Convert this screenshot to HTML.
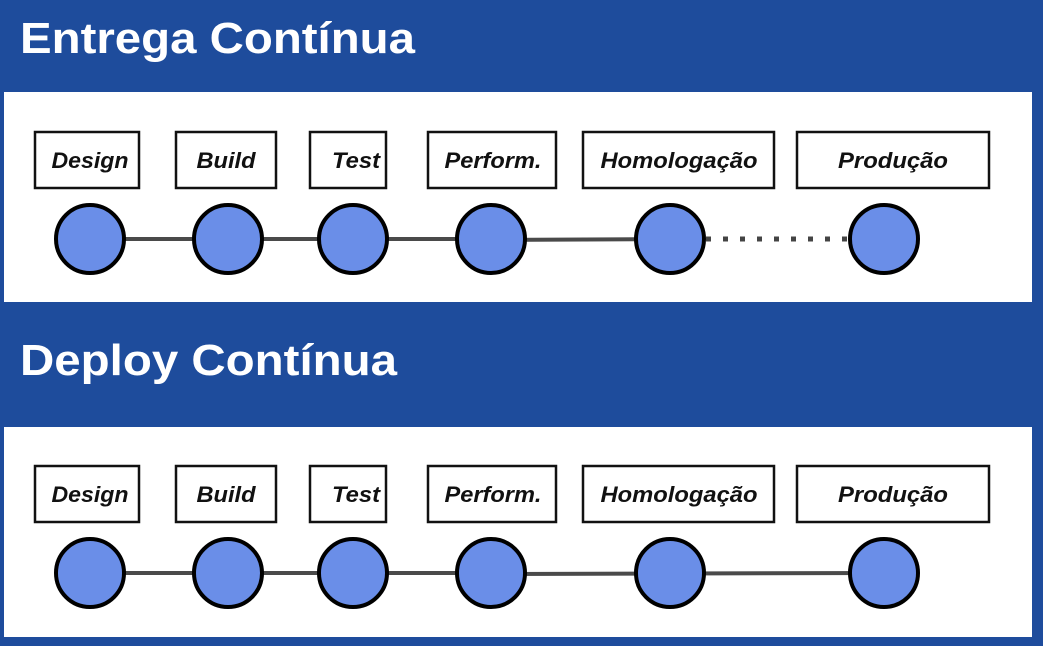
<!DOCTYPE html>
<html><head><style>
body{margin:0;width:1043px;height:646px;overflow:hidden;background:#1e4c9c;font-family:"Liberation Sans",sans-serif}
svg{position:absolute;left:0;top:0}
</style></head><body>
<svg width="1043" height="646" viewBox="0 0 1043 646">
<rect width="1043" height="646" fill="#1e4c9c"/>
<text x="20" y="53" font-size="44" font-weight="bold" fill="#fff" textLength="395" lengthAdjust="spacingAndGlyphs">Entrega Contínua</text>
<text x="20" y="375" font-size="44" font-weight="bold" fill="#fff" textLength="377" lengthAdjust="spacingAndGlyphs">Deploy Contínua</text>
<g>
<rect x="4" y="92" width="1028" height="210" fill="#fff"/>
<g fill="#fff" stroke="#111" stroke-width="2.5">
<rect x="35" y="132" width="104" height="56"/>
<rect x="176" y="132" width="100" height="56"/>
<rect x="310" y="132" width="76" height="56"/>
<rect x="428" y="132" width="128" height="56"/>
<rect x="583" y="132" width="191" height="56"/>
<rect x="797" y="132" width="192" height="56"/>
</g>
<g font-size="22" font-weight="bold" font-style="italic" fill="#111" text-anchor="middle">
<text x="90" y="168" textLength="77" lengthAdjust="spacingAndGlyphs">Design</text><text x="226" y="168" textLength="59" lengthAdjust="spacingAndGlyphs">Build</text><text x="356" y="168" textLength="48" lengthAdjust="spacingAndGlyphs">Test</text>
<text x="493" y="168" textLength="97" lengthAdjust="spacingAndGlyphs">Perform.</text><text x="679" y="168" textLength="157" lengthAdjust="spacingAndGlyphs">Homologação</text><text x="893" y="168" textLength="110" lengthAdjust="spacingAndGlyphs">Produção</text>
</g>
<g stroke="#4a4a4a" stroke-width="4"><line x1="90" y1="239" x2="491" y2="239"/><line x1="491" y1="240" x2="670" y2="239"/></g>
<line x1="706" y1="239" x2="850" y2="239" stroke="#444" stroke-width="5" stroke-dasharray="5 12"/>
<g fill="#6a8ee8" stroke="#000" stroke-width="4">
<circle cx="90" cy="239" r="34"/><circle cx="228" cy="239" r="34"/><circle cx="353" cy="239" r="34"/>
<circle cx="491" cy="239" r="34"/><circle cx="670" cy="239" r="34"/><circle cx="884" cy="239" r="34"/>
</g>
</g>
<g transform="translate(0,334)">
<rect x="4" y="93" width="1028" height="210" fill="#fff"/>
<g fill="#fff" stroke="#111" stroke-width="2.5">
<rect x="35" y="132" width="104" height="56"/>
<rect x="176" y="132" width="100" height="56"/>
<rect x="310" y="132" width="76" height="56"/>
<rect x="428" y="132" width="128" height="56"/>
<rect x="583" y="132" width="191" height="56"/>
<rect x="797" y="132" width="192" height="56"/>
</g>
<g font-size="22" font-weight="bold" font-style="italic" fill="#111" text-anchor="middle">
<text x="90" y="168" textLength="77" lengthAdjust="spacingAndGlyphs">Design</text><text x="226" y="168" textLength="59" lengthAdjust="spacingAndGlyphs">Build</text><text x="356" y="168" textLength="48" lengthAdjust="spacingAndGlyphs">Test</text>
<text x="493" y="168" textLength="97" lengthAdjust="spacingAndGlyphs">Perform.</text><text x="679" y="168" textLength="157" lengthAdjust="spacingAndGlyphs">Homologação</text><text x="893" y="168" textLength="110" lengthAdjust="spacingAndGlyphs">Produção</text>
</g>
<g stroke="#4a4a4a" stroke-width="4"><line x1="90" y1="239" x2="491" y2="239"/><line x1="491" y1="240" x2="884" y2="239"/></g>
<g fill="#6a8ee8" stroke="#000" stroke-width="4">
<circle cx="90" cy="239" r="34"/><circle cx="228" cy="239" r="34"/><circle cx="353" cy="239" r="34"/>
<circle cx="491" cy="239" r="34"/><circle cx="670" cy="239" r="34"/><circle cx="884" cy="239" r="34"/>
</g>
</g>
</svg>
</body></html>
